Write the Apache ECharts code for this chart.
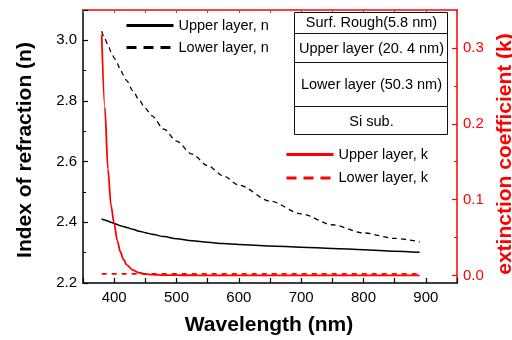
<!DOCTYPE html>
<html>
<head>
<meta charset="utf-8">
<script src="https://cdn.jsdelivr.net/npm/echarts@6/dist/echarts.min.js"></script>
<style>
  html, body { margin: 0; padding: 0; background: #fff; }
  #chart { width: 512px; height: 340px; }
</style>
</head>
<body>
<div id="chart"></div>
<script>
// wavelength (nm)
const wavelength = [380, 385, 390, 395, 400, 405, 410, 415, 420, 430, 440, 450, 460, 480, 500, 525, 550, 575, 600, 650, 700, 750, 800, 850, 890];
// refractive index n
const upperN = [2.411, 2.408, 2.404, 2.400, 2.396, 2.393, 2.389, 2.386, 2.383, 2.377, 2.371, 2.366, 2.361, 2.353, 2.346, 2.339, 2.334, 2.330, 2.327, 2.322, 2.318, 2.314, 2.310, 2.305, 2.301];
const lowerN = [3.030, 3.005, 2.985, 2.962, 2.942, 2.923, 2.903, 2.885, 2.867, 2.834, 2.803, 2.776, 2.752, 2.707, 2.668, 2.625, 2.587, 2.553, 2.523, 2.470, 2.428, 2.392, 2.365, 2.347, 2.336];
// extinction coefficient k
const upperK = [0.317, 0.222, 0.140, 0.092, 0.068, 0.046, 0.031, 0.021, 0.014, 0.007, 0.0035, 0.0018, 0.001, 0.0005, 0.0003, 0.0002, 0.0001, 0, 0, 0, 0, 0, 0, 0, 0];
const lowerK = [0.002, 0.002, 0.002, 0.002, 0.002, 0.002, 0.002, 0.002, 0.002, 0.002, 0.002, 0.002, 0.002, 0.002, 0.002, 0.002, 0.002, 0.002, 0.002, 0.002, 0.002, 0.002, 0.002, 0.002, 0.002];

const layerRows = ['Surf. Rough(5.8 nm)', 'Upper layer (20. 4 nm)', 'Lower layer (50.3 nm)', 'Si sub.'];
const kTicks = [0, 0.1, 0.2, 0.3];
const kMinorTicks = [0.05, 0.15, 0.25];

const FONT = '"Liberation Sans", Arial, sans-serif';
const RED = '#ff0000';

function pairs(ys) {
  return wavelength.map((x, i) => [x, ys[i]]);
}

let myChart = echarts.init(document.getElementById('chart'));

// table box rows: [top, height, text centre y]
const rowBoxes = [[12.5, 21, 23], [33.5, 29, 49], [62.5, 44, 85], [106.5, 28, 122]];
let tableGraphics = [];
rowBoxes.forEach((r, i) => {
  tableGraphics.push({
    type: 'rect', z: 100,
    shape: { x: 294.5, y: r[0], width: 153, height: r[1] },
    style: { fill: '#fff', stroke: '#111', lineWidth: 1 }
  });
  tableGraphics.push({
    type: 'text', z: 101, x: 371.5, y: r[2],
    style: { text: layerRows[i], font: '14.5px ' + FONT, fill: '#000', align: 'center', verticalAlign: 'middle' }
  });
});

let legendBase = {
  orient: 'vertical', padding: 0,
  itemWidth: 47, itemHeight: 14,
  textStyle: { fontFamily: FONT, fontSize: 14.5, color: '#000' },
  itemStyle: { opacity: 0 },
  lineStyle: { width: 3 }
};

myChart.setOption({
  animation: false,
  grid: { left: 83, right: 55, top: 10, bottom: 57, containLabel: false },
  legend: [
    Object.assign({}, legendBase, {
      left: 125, top: 18, itemGap: 7,
      data: ['Upper layer, n', { name: 'Lower layer, n', lineStyle: { type: [10, 7] } }]
    }),
    Object.assign({}, legendBase, {
      left: 285, top: 147, itemGap: 8.5,
      data: ['Upper layer, k', { name: 'Lower layer, k', lineStyle: { type: [10, 7] } }]
    })
  ],
  xAxis: [
    {
      type: 'value', position: 'bottom', min: 350, max: 950, interval: 50,
      axisLine: { onZero: false, lineStyle: { color: '#000', width: 1.5 } },
      axisTick: { inside: true, length: 5, lineStyle: { color: '#000', width: 1.2 } },
      axisLabel: {
        margin: 7, fontFamily: FONT, fontSize: 15, color: '#000',
        formatter: v => (v % 100 === 0 ? String(v) : '')
      },
      splitLine: { show: false }
    },
    {
      type: 'value', position: 'top', min: 350, max: 950, interval: 50,
      axisLine: { onZero: false, lineStyle: { color: RED, width: 1.5 } },
      axisTick: { inside: true, length: 3, lineStyle: { color: '#666', width: 1 } },
      axisLabel: { show: false },
      splitLine: { show: false }
    }
  ],
  yAxis: [
    {
      type: 'value', position: 'left', min: 2.2, max: 3.1, interval: 0.2,
      axisLine: { show: true, onZero: false, lineStyle: { color: '#000', width: 1.5 } },
      axisTick: { show: true, inside: true, length: 5, lineStyle: { color: '#000', width: 1.2 } },
      minorTick: { show: true, splitNumber: 2, length: 3, lineStyle: { color: '#000', width: 1 } },
      axisLabel: {
        margin: 6, fontFamily: FONT, fontSize: 15, color: '#000', showMaxLabel: false,
        formatter: v => v.toFixed(1)
      },
      splitLine: { show: false }
    },
    {
      type: 'value', position: 'right', min: -0.01, max: 0.35,
      axisLine: { show: true, onZero: false, lineStyle: { color: RED, width: 1.5 } },
      axisTick: { show: true, inside: true, length: 5, customValues: kTicks, lineStyle: { color: RED, width: 1.2 } },
      axisLabel: {
        margin: 6, fontFamily: FONT, fontSize: 15, color: RED, customValues: kTicks,
        formatter: v => v.toFixed(1)
      },
      splitLine: { show: false }
    },
    {
      // minor ticks for the k axis
      type: 'value', position: 'right', min: -0.01, max: 0.35,
      axisLine: { show: false, onZero: false },
      axisTick: { show: true, inside: true, length: 3, customValues: kMinorTicks, lineStyle: { color: RED, width: 1 } },
      axisLabel: { show: false },
      splitLine: { show: false }
    }
  ],
  series: [
    {
      name: 'Upper layer, n', type: 'line', xAxisIndex: 0, yAxisIndex: 0,
      data: pairs(upperN), symbol: 'none', smooth: 0.3, smoothMonotone: 'x',
      lineStyle: { color: '#000', width: 1.5 }, itemStyle: { color: '#000' }
    },
    {
      name: 'Lower layer, n', type: 'line', xAxisIndex: 0, yAxisIndex: 0,
      data: pairs(lowerN), symbol: 'none', smooth: 0.3, smoothMonotone: 'x',
      lineStyle: { color: '#000', width: 1.3, type: [5, 4] }, itemStyle: { color: '#000' }
    },
    {
      name: 'Upper layer, k', type: 'line', xAxisIndex: 0, yAxisIndex: 1,
      data: pairs(upperK), symbol: 'none', smooth: 0.3, smoothMonotone: 'x',
      lineStyle: { color: RED, width: 1.8 }, itemStyle: { color: RED }
    },
    {
      name: 'Lower layer, k', type: 'line', xAxisIndex: 0, yAxisIndex: 1,
      data: pairs(lowerK), symbol: 'none',
      lineStyle: { color: RED, width: 1.6, type: [5, 5] }, itemStyle: { color: RED }
    }
  ],
  graphic: tableGraphics.concat([
    {
      type: 'text', x: 25, y: 150, rotation: Math.PI / 2,
      style: { text: 'Index of refraction (n)', font: 'bold 21px ' + FONT, fill: '#000', align: 'center', verticalAlign: 'middle' }
    },
    {
      type: 'text', x: 505, y: 154, rotation: Math.PI / 2,
      style: { text: 'extinction coefficient (k)', font: 'bold 21px ' + FONT, fill: RED, align: 'center', verticalAlign: 'middle' }
    },
    {
      type: 'text', x: 269, y: 325,
      style: { text: 'Wavelength (nm)', font: 'bold 21px ' + FONT, fill: '#000', align: 'center', verticalAlign: 'middle' }
    }
  ])
});
</script>
</body>
</html>
